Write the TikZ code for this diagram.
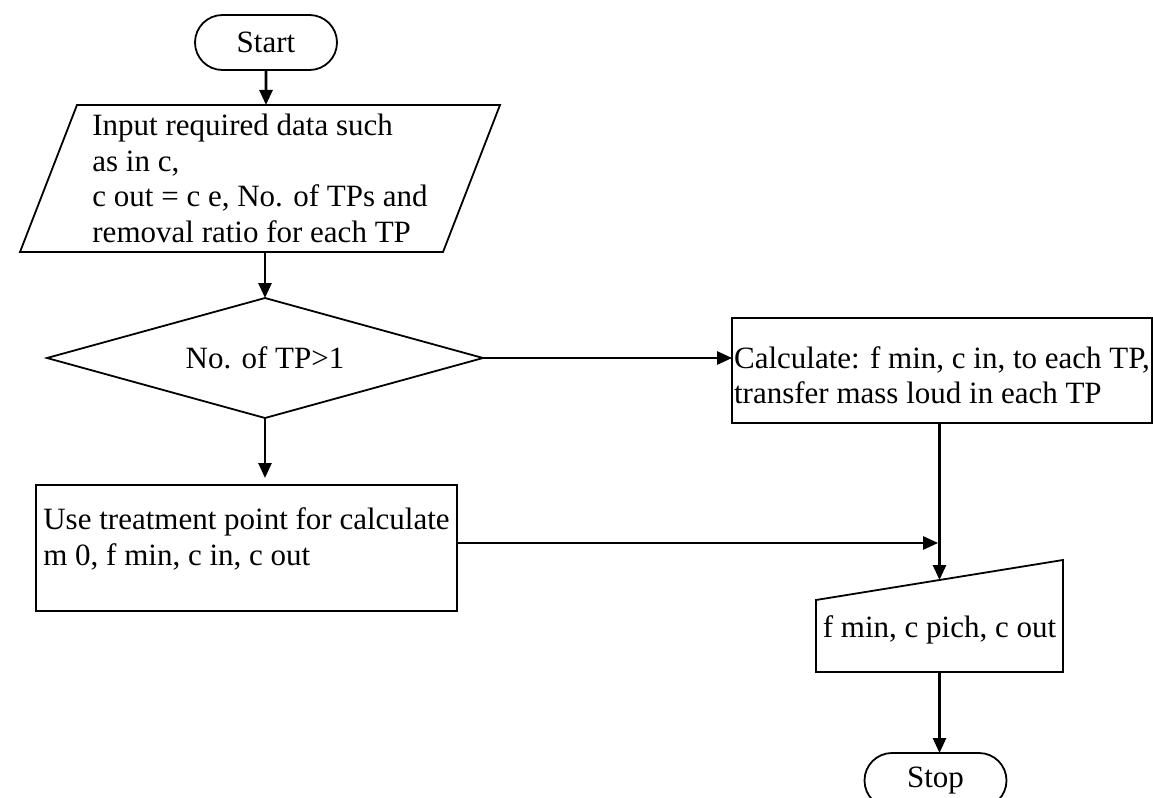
\documentclass[tikz,border=0pt]{standalone}
\usepackage{fontspec}
\setmainfont{Liberation Serif}
\usetikzlibrary{arrows.meta, positioning, shapes.geometric, shapes.misc, calc}
\tikzset{
    chart/.style={draw, line width=0.9pt, inner sep=1pt, outer sep=0pt, align=left,
      font=\fontsize{15.5pt}{17.75pt}\selectfont},
    terminal/.style={chart, rounded rectangle, minimum width=73pt, minimum height=27.5pt},
    io/.style={chart, trapezium, trapezium left angle=66.7, trapezium right angle=113.3,
      trapezium stretches body, minimum width=240pt, minimum height=73.5pt},
    decision/.style={chart, diamond, aspect=3.6, minimum width=218pt, minimum height=60pt, inner sep=0pt},
    process/.style={chart, rectangle},
    arr/.style={-{Triangle[length=7.5pt, width=6.5pt]}, line width=1.3pt},
}
\begin{document}
\begin{tikzpicture}[x=0.5pt, y=-0.5pt]
    \path[fill=white, use as bounding box] (0,0) rectangle (1153,798);

    \node[terminal] (start) at (266,42.5) {Start};
    \node[io] (inp) at (260,178.5) {Input required data such\\as in c,\\c out = c e, No. of TPs and\\removal ratio for each TP};
    \node[decision] (dec) at (265,358) {No. of TP>1};
    \node[process, minimum width=209pt, minimum height=52.5pt, text height=33.3pt] (calc) at (942,370.5)
      {Calculate: f min, c in, to each TP,\\transfer mass loud in each TP};
    \node[process, minimum width=210.5pt, minimum height=63pt, text depth=11.2pt] (use) at (246.5,548)
      {Use treatment point for calculate\\m 0, f min, c in, c out};
    \node[chart, draw=none, minimum width=123.5pt, minimum height=42pt] (out) at (939.5,630) {f min, c pich, c out};
    \draw[chart] (out.south west) -- ([yshift=-6pt]out.north west) -- ([yshift=14pt]out.north east)
      -- (out.south east) -- cycle;
    \node[terminal] (stop) at (935.5,780.5) {Stop};

    \coordinate (mtop) at ($([yshift=-6pt]out.north west)!0.5!([yshift=14pt]out.north east)$);

    \draw[arr] (start) -- (start |- inp.north);
    \draw[arr] (dec.north |- inp.south) -- (dec.north);
    \draw[arr] (dec.east) -- (dec.east -| calc.west);
    \draw[arr, shorten >=3.5pt] (dec.south) -- (dec.south |- use.north);
    \draw[arr] (calc.south -| mtop) -- (mtop);
    \draw[arr, shorten >=0.7pt] ([yshift=2.5pt]use.east) -- ([yshift=2.5pt]use.east -| mtop);
    \draw[arr] (out.south) -- (out.south |- stop.north);
\end{tikzpicture}
\end{document}
